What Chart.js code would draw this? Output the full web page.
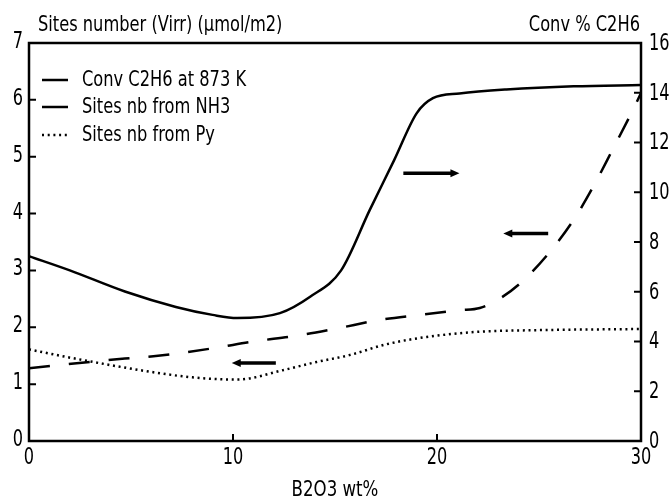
<!DOCTYPE html>
<html>
<head>
<meta charset="utf-8">
<script src="https://cdn.jsdelivr.net/npm/chart.js@4.4.1/dist/chart.umd.min.js"></script>
<style>
  html, body { margin: 0; padding: 0; background: #fff; }
  #wrap { width: 671px; height: 501px; position: relative; }
</style>
</head>
<body>
<div id="wrap"><canvas id="c" width="671" height="501"></canvas></div>
<script>
// ---- data ----
const convX = [0, 2, 4.7, 7.2, 9, 10.2, 12.3, 13.8, 15.3, 16.7, 17.9, 19, 19.8, 21.1, 23.4, 26.7, 30];
const convY = [7.43, 6.86, 6.01, 5.39, 5.07, 4.94, 5.14, 5.81, 6.86, 9.28, 11.29, 13.17, 13.78, 13.97, 14.13, 14.26, 14.31];

const nh3X = [0, 4.7, 6.1, 9, 11, 13.1, 15.1, 17.2, 19.2, 21.1, 22.1, 23.1, 24.1, 25.4, 26.7, 27.7, 28.6, 29.6, 30];
const nh3Y = [1.28, 1.45, 1.49, 1.63, 1.75, 1.85, 1.98, 2.13, 2.22, 2.30, 2.34, 2.51, 2.78, 3.27, 3.89, 4.50, 5.12, 5.82, 6.12];

const pyX = [0, 2.25, 5.9, 8, 10.2, 12.5, 14.1, 15.7, 17.5, 19.5, 22, 25, 30];
const pyY = [1.61, 1.45, 1.22, 1.12, 1.08, 1.25, 1.39, 1.51, 1.70, 1.83, 1.92, 1.95, 1.97];

const seriesLabels = ['Conv C2H6 at 873 K', 'Sites nb from NH3', 'Sites nb from Py'];

const xTicks = [0, 10, 20, 30];
const leftTicks = [0, 1, 2, 3, 4, 5, 6, 7];
const rightTicks = [0, 2, 4, 6, 8, 10, 12, 14, 16];

// arrows (data units on left axis): start x, end x (head at end), y
const arrowFromX = [18.35, 25.45, 12.1];
const arrowToX   = [21.1, 23.25, 9.94];
const arrowY     = [4.71, 3.65, 1.37];

const leftTitle = 'Sites number (Virr) (µmol/m2)';
const rightTitle = 'Conv % C2H6';
const xTitle = 'B2O3 wt%';

const FONT = "'DejaVu Sans Condensed', 'DejaVu Sans', sans-serif";

const pts = (xs, ys) => xs.map((x, i) => ({ x: x, y: ys[i] }));

function txt(ctx, s, x, y, size, sx, align, base) {
  ctx.save();
  ctx.font = size + 'px ' + FONT;
  ctx.textAlign = align;
  ctx.textBaseline = base;
  ctx.translate(x, y);
  ctx.scale(sx, 1);
  ctx.fillText(s, 0, 0);
  ctx.restore();
}

const decor = {
  id: 'decor',
  afterDraw(chart) {
    const { ctx, chartArea: { left, right, top, bottom }, scales } = chart;
    const x = scales.x, yL = scales.yL, yR = scales.yR;
    ctx.save();
    ctx.strokeStyle = '#000';
    ctx.fillStyle = '#000';
    ctx.lineWidth = 2.5;
    ctx.strokeRect(left, top, right - left, bottom - top);
    // inward tick marks
    ctx.lineWidth = 2;
    ctx.beginPath();
    leftTicks.forEach(v => { const y = yL.getPixelForValue(v); ctx.moveTo(left, y); ctx.lineTo(left + 7, y); });
    rightTicks.forEach(v => { const y = yR.getPixelForValue(v); ctx.moveTo(right, y); ctx.lineTo(right - 7, y); });
    xTicks.forEach(v => { const px = x.getPixelForValue(v); ctx.moveTo(px, bottom); ctx.lineTo(px, bottom - 7); });
    ctx.stroke();
    // tick labels
    leftTicks.forEach(v => txt(ctx, String(v), left - 6, yL.getPixelForValue(v) - 1, 23, 0.78, 'right', 'middle'));
    rightTicks.forEach(v => txt(ctx, String(v), right + 8, yR.getPixelForValue(v) + 1, 23, 0.78, 'left', 'middle'));
    xTicks.forEach(v => txt(ctx, String(v), x.getPixelForValue(v), bottom + 6, 23, 0.78, 'center', 'top'));
    // arrows
    ctx.lineWidth = 3.5;
    ctx.lineCap = 'butt';
    arrowFromX.forEach((fx, i) => {
      const x1 = x.getPixelForValue(fx), x2 = x.getPixelForValue(arrowToX[i]);
      const y = yL.getPixelForValue(arrowY[i]);
      const d = Math.sign(x2 - x1);
      ctx.beginPath();
      ctx.moveTo(x1, y); ctx.lineTo(x2 - d * 6, y);
      ctx.stroke();
      ctx.beginPath();
      ctx.moveTo(x2, y);
      ctx.lineTo(x2 - d * 9, y - 4);
      ctx.lineTo(x2 - d * 9, y + 4);
      ctx.closePath();
      ctx.fill();
    });
    // legend
    const ds = chart.data.datasets;
    const rowsY = [80, 107, 135];
    ds.forEach((d, i) => {
      ctx.save();
      ctx.strokeStyle = '#000';
      ctx.lineWidth = d.borderWidth;
      if (i === 2) ctx.setLineDash(d.borderDash); else ctx.setLineDash([]);
      ctx.beginPath();
      ctx.moveTo(42, rowsY[i]); ctx.lineTo(68, rowsY[i]);
      ctx.stroke();
      ctx.restore();
      txt(ctx, d.label, 82, rowsY[i] + 1, 21, 0.86, 'left', 'middle');
    });
    // titles
    txt(ctx, leftTitle, 38, 31, 21, 0.86, 'left', 'alphabetic');
    txt(ctx, rightTitle, 640, 31, 21, 0.86, 'right', 'alphabetic');
    txt(ctx, xTitle, (left + right) / 2, 496, 22, 0.84, 'center', 'alphabetic');
    ctx.restore();
  }
};

new Chart(document.getElementById('c'), {
  type: 'line',
  data: {
    datasets: [
      { label: seriesLabels[0], data: pts(convX, convY), yAxisID: 'yR', borderColor: '#000', borderWidth: 2.5, pointRadius: 0, cubicInterpolationMode: 'monotone', fill: false },
      { label: seriesLabels[1], data: pts(nh3X, nh3Y), yAxisID: 'yL', borderColor: '#000', borderWidth: 2.5, borderDash: [21, 19], pointRadius: 0, cubicInterpolationMode: 'monotone', fill: false },
      { label: seriesLabels[2], data: pts(pyX, pyY), yAxisID: 'yL', borderColor: '#000', borderWidth: 2.5, borderDash: [2, 3.7], pointRadius: 0, cubicInterpolationMode: 'monotone', fill: false }
    ]
  },
  options: {
    responsive: false,
    animation: false,
    devicePixelRatio: 1,
    layout: { padding: { top: 43, left: 0, right: 0, bottom: 0 } },
    plugins: { legend: { display: false }, tooltip: { enabled: false } },
    scales: {
      x: {
        type: 'linear', min: 0, max: 30,
        afterBuildTicks: s => { s.ticks = xTicks.map(v => ({ value: v })); },
        afterFit: s => { s.height = 60; },
        grid: { display: false, drawTicks: false },
        border: { display: false },
        ticks: { display: false }
      },
      yL: {
        type: 'linear', position: 'left', min: 0, max: 7,
        afterBuildTicks: s => { s.ticks = leftTicks.map(v => ({ value: v })); },
        afterFit: s => { s.width = 29; },
        grid: { display: false, drawTicks: false },
        border: { display: false },
        ticks: { display: false }
      },
      yR: {
        type: 'linear', position: 'right', min: 0, max: 16,
        afterBuildTicks: s => { s.ticks = rightTicks.map(v => ({ value: v })); },
        afterFit: s => { s.width = 30; },
        grid: { display: false, drawTicks: false },
        border: { display: false },
        ticks: { display: false }
      }
    }
  },
  plugins: [decor]
});
</script>
</body>
</html>
